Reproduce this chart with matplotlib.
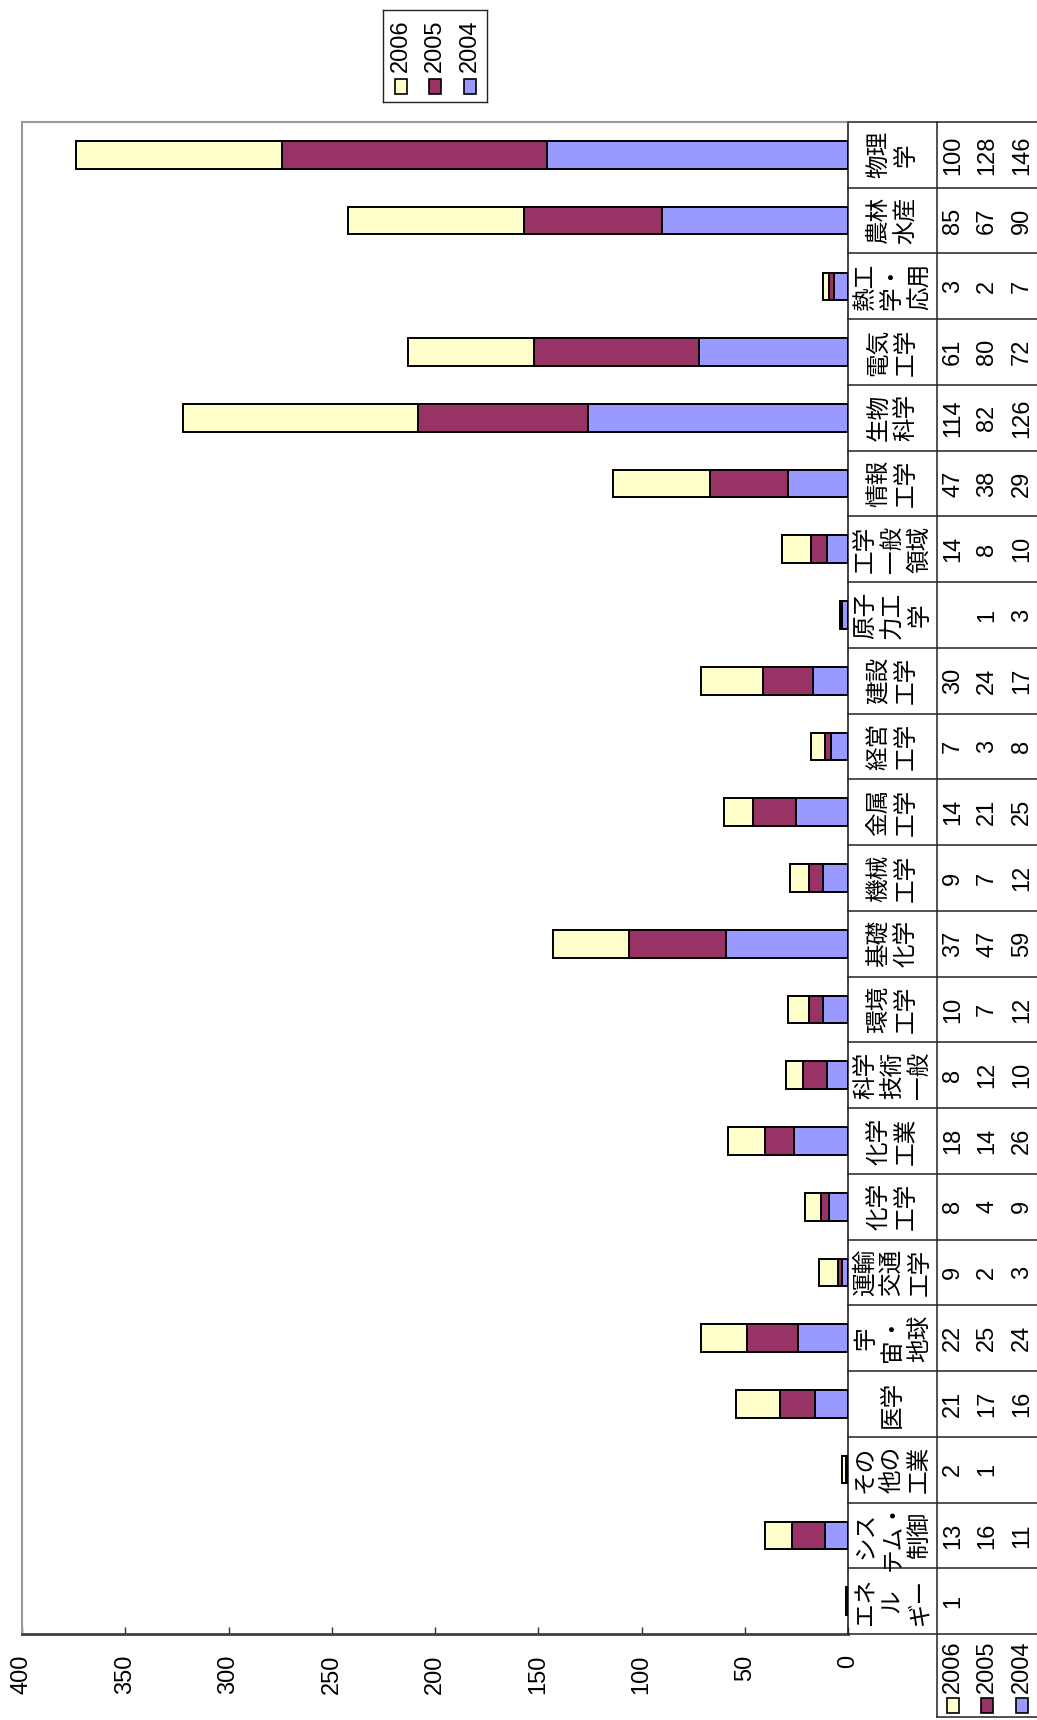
import numpy as np
import matplotlib
matplotlib.use('Agg')
import matplotlib.pyplot as plt
from matplotlib.patches import Rectangle

plt.rcParams['font.family'] = ['Liberation Sans', 'Noto Sans CJK JP']

# categories listed bottom -> top, with the line breaks used in the table cells
categories = ['エネ\nル\nギー', 'シス\nテム・\n制御', 'その\n他の\n工業', '医学',
              '宇\n宙・\n地球', '運輸\n交通\n工学', '化学\n工学', '化学\n工業',
              '科学\n技術\n一般', '環境\n工学', '基礎\n化学', '機械\n工学',
              '金属\n工学', '経営\n工学', '建設\n工学', '原子\n力工\n学',
              '工学\n一般\n領域', '情報\n工学', '生物\n科学', '電気\n工学',
              '熱工\n学・\n応用', '農林\n水産', '物理\n学']
y2006 = [1, 13, 2, 21, 22, 9, 8, 18, 8, 10, 37, 9, 14, 7, 30, None, 14, 47, 114, 61, 3, 85, 100]
y2005 = [None, 16, 1, 17, 25, 2, 4, 14, 12, 7, 47, 7, 21, 3, 24, 1, 8, 38, 82, 80, 2, 67, 128]
y2004 = [None, 11, None, 16, 24, 3, 9, 26, 10, 12, 59, 12, 25, 8, 17, 3, 10, 29, 126, 72, 7, 90, 146]
years = ['2006', '2005', '2004']
colors = {'2006': '#FFFFCC', '2005': '#993366', '2004': '#9999FF'}
xticks = [0, 50, 100, 150, 200, 250, 300, 350, 400]

W, H = 1037, 1720
FS = 17


def box(x0, y0, x1, y1):
    # pixel box (from top-left) -> figure fraction rect
    return [x0 / W, 1 - y1 / H, (x1 - x0) / W, (y1 - y0) / H]


fig = plt.figure(figsize=(W / 100, H / 100), dpi=100)
fig.patch.set_facecolor('white')

# ---- main plot: horizontal stacked bars, value axis growing to the left ----
ax = fig.add_axes(box(22, 122, 848, 1634))
n = len(categories)
ypos = np.arange(n)
series = {'2006': y2006, '2005': y2005, '2004': y2004}
base = np.zeros(n)
for yr in ('2004', '2005', '2006'):
    vals = np.array([0 if v is None else v for v in series[yr]], float)
    m = vals > 0
    ax.barh(ypos[m], vals[m], left=base[m], height=0.42, color=colors[yr],
            edgecolor='black', linewidth=1.4, zorder=3)
    base = base + vals

ax.set_xlim(400, 0)
ax.set_ylim(-0.5, n - 0.5)
ax.set_xticks(xticks)
ax.set_xticklabels([str(t) for t in xticks])
ax.set_yticks([])
ax.tick_params(axis='x', direction='in', length=5, width=1, pad=15,
               labelsize=FS, labelrotation=90, color='#333333')
for s in ('left', 'top'):
    ax.spines[s].set_color('#999999')
    ax.spines[s].set_linewidth(1.5)
ax.spines['right'].set_color('#222222')
ax.spines['right'].set_linewidth(1.2)
ax.spines['bottom'].set_color('#404040')
ax.spines['bottom'].set_linewidth(2)

# ---- data table on the right ----
cat_h = (1634 - 122) / n
tab = fig.add_axes(box(848, 122, 1037, 1634))
tab.set_xlim(0, 189)
tab.set_ylim(-0.5, n - 0.5)
tab.axis('off')
lc = '#222222'
y_bot = -0.5 - (1717 - 1634) / cat_h
for k in range(n + 1):
    tab.plot([0, 189], [k - 0.5] * 2, color=lc, lw=1.1, clip_on=False)
tab.plot([89, 89], [n - 0.5, y_bot], color=lc, lw=1.1, clip_on=False)
tab.plot([89, 189], [y_bot, y_bot], color=lc, lw=1.1, clip_on=False)

for i, lab in enumerate(categories):
    tab.text(45, i, lab, rotation=90, ha='center', va='center',
             multialignment='center', fontsize=FS, linespacing=1.3)

col_x = [105, 139, 174]
for j, yr in enumerate(years):
    for i, v in enumerate(series[yr]):
        if v is not None:
            tab.text(col_x[j], i, str(v), rotation=90, ha='center', va='center',
                     fontsize=FS)
    # legend keys in the table's last row
    sw_top = -0.5 - (1698 - 1634) / cat_h
    sw_bot = -0.5 - (1713 - 1634) / cat_h
    r = Rectangle((col_x[j] - 6, sw_bot), 12, sw_top - sw_bot,
                  facecolor=colors[yr], edgecolor='black', lw=1.2)
    r.set_clip_on(False)
    tab.add_patch(r)
    tab.text(col_x[j], -0.5 - (1693 - 1634) / cat_h, yr, rotation=90,
             ha='center', va='bottom', fontsize=FS, clip_on=False)

# ---- legend box at the top ----
leg = fig.add_axes(box(383, 10, 487, 102))
leg.set_xlim(0, 104)
leg.set_ylim(92, 0)
leg.set_xticks([])
leg.set_yticks([])
for s in leg.spines.values():
    s.set_color('#222222')
    s.set_linewidth(1.0)
for xc, yr in zip([18, 52, 87], years):
    leg.add_patch(Rectangle((xc - 6, 69), 12, 15, facecolor=colors[yr],
                            edgecolor='black', lw=1.2))
    leg.text(xc, 62, yr, rotation=90, ha='center', va='bottom', fontsize=FS)

fig.savefig('out.png', dpi=100)
